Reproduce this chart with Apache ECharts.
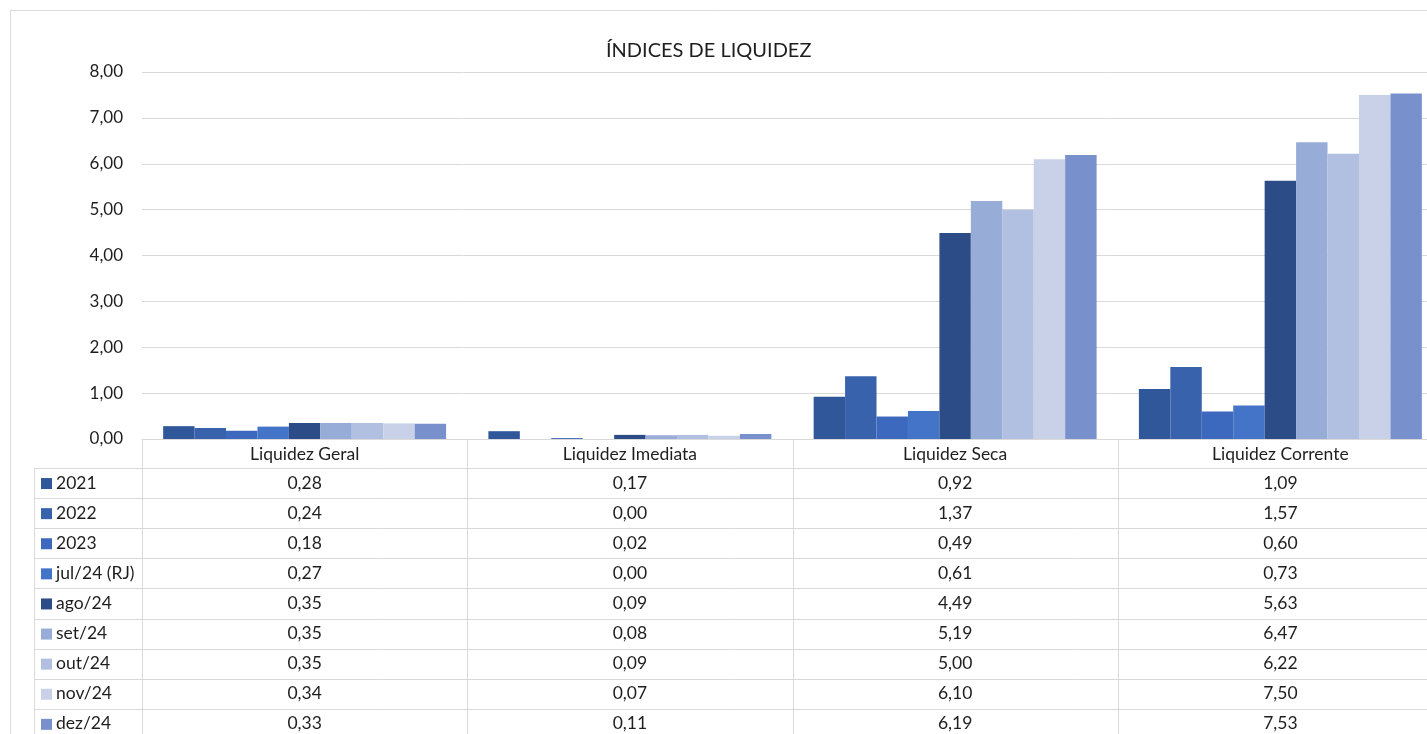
<!DOCTYPE html>
<html>
<head>
<meta charset="utf-8">
<script src="https://cdn.jsdelivr.net/npm/echarts@6/dist/echarts.min.js"></script>
<style>
  html, body { margin: 0; padding: 0; background: #fff; }
  #chart { width: 1427px; height: 734px; }
</style>
</head>
<body>
<div id="chart"></div>
<script>
// categories on the x axis (also the table columns)
const categories = ['Liquidez Geral', 'Liquidez Imediata', 'Liquidez Seca', 'Liquidez Corrente'];
// one series per period (table rows)
const periods = ['2021', '2022', '2023', 'jul/24 (RJ)', 'ago/24', 'set/24', 'out/24', 'nov/24', 'dez/24'];
const periodColors = ['#30579a', '#3862ab', '#3c69be', '#4474c7', '#2c4c88', '#98acd8', '#b1bfe1', '#c9d1e8', '#7891cd'];

const v2021 = [0.28, 0.17, 0.92, 1.09];
const v2022 = [0.24, 0.00, 1.37, 1.57];
const v2023 = [0.18, 0.02, 0.49, 0.60];
const vJul24 = [0.27, 0.00, 0.61, 0.73];
const vAgo24 = [0.35, 0.09, 4.49, 5.63];
const vSet24 = [0.35, 0.08, 5.19, 6.47];
const vOut24 = [0.35, 0.09, 5.00, 6.22];
const vNov24 = [0.34, 0.07, 6.10, 7.50];
const vDez24 = [0.33, 0.11, 6.19, 7.53];
const seriesValues = [v2021, v2022, v2023, vJul24, vAgo24, vSet24, vOut24, vNov24, vDez24];

const yMin = 0, yMax = 8, yStep = 1;

const FONT = 'Lato';
const TXT = '#1e1e1e';
const LINE = '#d9d9d9';

function fmt(v) { return v.toFixed(2).replace('.', ','); }

const chart = echarts.init(document.getElementById('chart'));

const option = {
    animation: false,
    title: {
        text: 'ÍNDICES DE LIQUIDEZ',
        left: 601,
        top: 36,
        textStyle: { fontFamily: FONT, fontSize: 20, fontWeight: 'normal', color: TXT }
    },
    // the plot runs past the right edge of the picture, as in the original screenshot
    grid: { left: 142, right: -16, top: 72, bottom: 295, outerBoundsMode: 'none' },
    xAxis: {
        type: 'category',
        data: categories,
        axisTick: { show: false },
        axisLabel: { show: false },
        axisLine: { lineStyle: { color: LINE, width: 1 } }
    },
    yAxis: {
        type: 'value',
        min: yMin,
        max: yMax,
        interval: yStep,
        axisLine: { show: false },
        axisTick: { show: false },
        axisLabel: {
            formatter: fmt,
            margin: 19,
            fontFamily: FONT,
            fontSize: 17,
            color: TXT
        },
        splitLine: { lineStyle: { color: LINE, width: 1 } }
    },
    series: periods.map((p, i) => ({
        name: p,
        type: 'bar',
        data: seriesValues[i],
        barGap: '0%',
        barCategoryGap: '13%',
        itemStyle: { color: periodColors[i] }
    }))
};
chart.setOption(option);

// data table under the plot, laid out from the category axis
const c0 = chart.convertToPixel({ xAxisIndex: 0 }, 0);
const c1 = chart.convertToPixel({ xAxisIndex: 0 }, 1);
const colW = c1 - c0;
const tableLeft = c0 - colW / 2;
const axisY = chart.convertToPixel({ yAxisIndex: 0 }, 0);
const headTop = axisY;
const firstRow = 468;
const rowH = 30.1;
const legendLeft = 34;
const bottom = 734;

const g = [];
function hline(x1, x2, y) {
    g.push({ type: 'line', silent: true, shape: { x1: x1, y1: y, x2: x2, y2: y }, style: { stroke: LINE, lineWidth: 1 } });
}
function vline(x, y1, y2) {
    g.push({ type: 'line', silent: true, shape: { x1: x, y1: y1, x2: x, y2: y2 }, style: { stroke: LINE, lineWidth: 1 } });
}
function text(str, x, y, align) {
    g.push({ type: 'text', silent: true, x: x, y: y,
        style: { text: str, fill: TXT, font: '17.5px ' + FONT, textAlign: align, textVerticalAlign: 'middle' } });
}

// outer chart frame
hline(10, 1427, 10.5);
vline(10.5, 10, bottom);

for (let k = 0; k <= categories.length; k++) {
    vline(Math.round(tableLeft + k * colW) + 0.5, headTop, bottom);
}
vline(legendLeft + 0.5, firstRow, bottom);
for (let r = 0; r <= periods.length; r++) {
    hline(legendLeft, 1427, Math.round(firstRow + r * rowH) + 0.5);
}

categories.forEach((c, k) => {
    text(c, tableLeft + (k + 0.5) * colW, (headTop + firstRow) / 2 + 1, 'center');
});

periods.forEach((p, r) => {
    const cy = firstRow + (r + 0.5) * rowH;
    g.push({ type: 'rect', silent: true, shape: { x: 41, y: cy - 5, width: 11, height: 11 },
        style: { fill: periodColors[r] } });
    text(p, 56, cy, 'left');
    seriesValues[r].forEach((v, k) => {
        text(fmt(v), tableLeft + (k + 0.5) * colW, cy, 'center');
    });
});

chart.setOption({ graphic: { elements: g } });
</script>
</body>
</html>
